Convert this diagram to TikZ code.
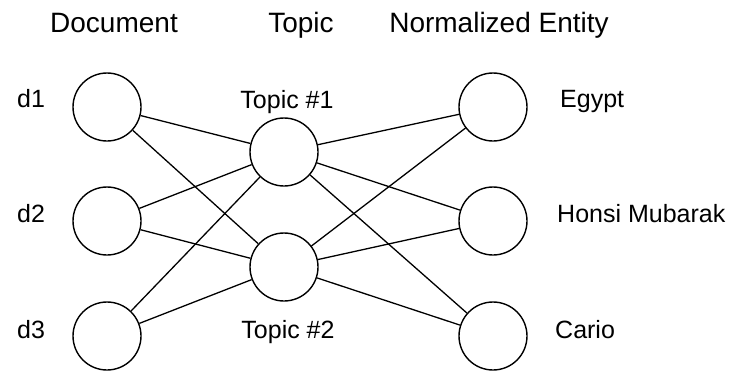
\documentclass[tikz,border=0pt]{standalone}
\usepackage{fontspec}
\setmainfont{Liberation Sans}
\begin{document}
\begin{tikzpicture}[x=1pt,y=-1pt,
  vert/.style={circle,draw,line width=1.4pt,minimum size=68pt,inner sep=0pt},
  edge/.style={line width=1.3pt},
  lab/.style={font=\fontsize{25}{30}\selectfont,inner sep=0pt},
  head/.style={font=\fontsize{28}{32}\selectfont,inner sep=0pt,anchor=base}]
\useasboundingbox (0,0) rectangle (744,370);
\node[head] (hd) at (114,32) {Document};
\node[head] (ht) at (301,32) {Topic};
\node[head] (he) at (499,32) {Normalized Entity};
\node[vert] (d1) at (107,107) {};
\node[vert] (d2) at (107,221) {};
\node[vert] (d3) at (107,336) {};
\node[vert] (t1) at (284,152) {};
\node[vert] (t2) at (284,267) {};
\node[vert] (e1) at (493,107) {};
\node[vert] (e2) at (493,221) {};
\node[vert] (e3) at (493,336) {};
\node[lab,anchor=base west] (l1) at (17,107) {d1};
\node[lab,anchor=base west] (l2) at (17,222) {d2};
\node[lab,anchor=base west] (l3) at (17,338) {d3};
\node[lab,anchor=base] (lt1) at (287,108) {Topic \#1};
\node[lab,anchor=base] (lt2) at (288,338) {Topic \#2};
\node[lab,anchor=base west] (le1) at (560,107) {Egypt};
\node[lab,anchor=base west] (le2) at (557,222) {Honsi Mubarak};
\node[lab,anchor=base west] (le3) at (555,338) {Cario};
\foreach \a in {d1,d2,d3}{\foreach \b in {t1,t2}{\draw[edge] (\a) -- (\b);}}
\foreach \a in {t1,t2}{\foreach \b in {e1,e2,e3}{\draw[edge] (\a) -- (\b);}}
\end{tikzpicture}
\end{document}
